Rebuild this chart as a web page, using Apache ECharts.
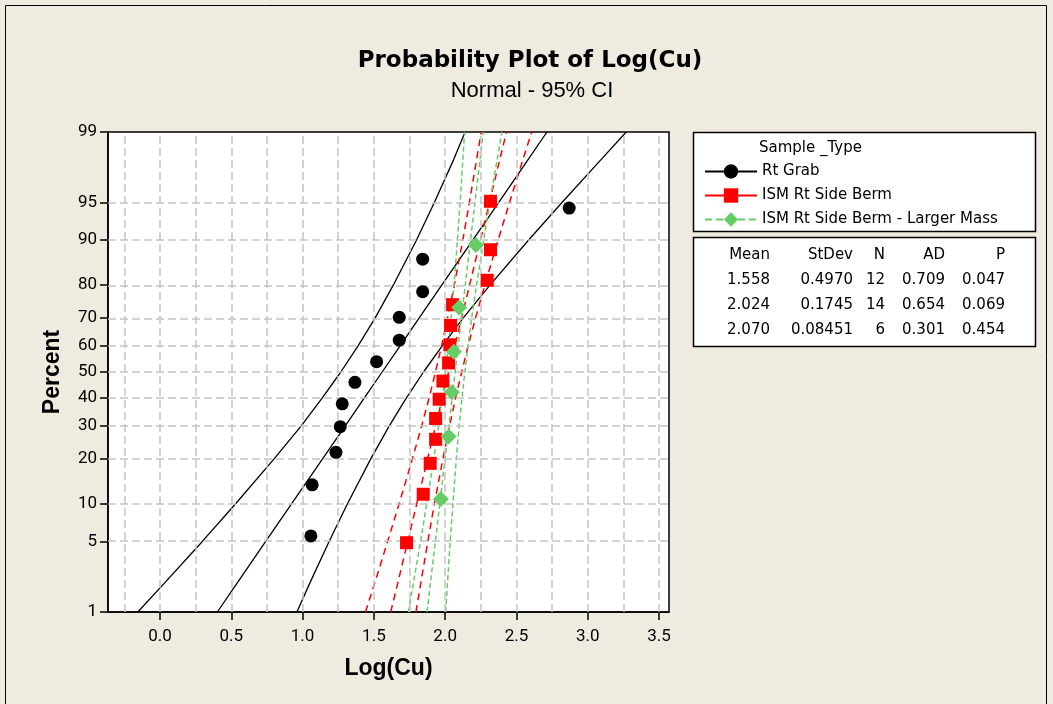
<!DOCTYPE html>
<html><head><meta charset="utf-8">
<script src="https://cdn.jsdelivr.net/npm/echarts@6/dist/echarts.min.js"></script>
<style>html,body{margin:0;padding:0;background:#efebe0;} #chart{width:1053px;height:704px;}</style>
</head><body><div id="chart"></div>
<script>
// ---------- data ----------
const TITLE = 'Probability Plot of Log(Cu)';
const SUBTITLE = 'Normal - 95% CI';
const X_NAME = 'Log(Cu)';
const Y_NAME = 'Percent';
const X_MIN = -0.365, X_MAX = 3.57;
const X_TICKS = [0, 0.5, 1, 1.5, 2, 2.5, 3, 3.5];
const X_GRID = [-0.25, 0, 0.25, 0.5, 0.75, 1, 1.25, 1.5, 1.75, 2, 2.25, 2.5, 2.75, 3, 3.25, 3.5];
const PCT_TICKS = [1, 5, 10, 20, 30, 40, 50, 60, 70, 80, 90, 95, 99];
const LEGEND_TITLE = 'Sample _Type';
const GROUPS = ['Rt Grab', 'ISM Rt Side Berm', 'ISM Rt Side Berm - Larger Mass'];

const GRAB_X   = [1.058, 1.067, 1.234, 1.264, 1.278, 1.367, 1.519, 1.678, 1.678, 1.842, 1.842, 2.870];
const GRAB_PCT = [5.6, 13.7, 21.8, 29.8, 37.9, 46.0, 54.0, 62.1, 70.2, 78.2, 86.3, 94.4];
const BERM_X   = [1.729, 1.846, 1.895, 1.933, 1.933, 1.958, 1.984, 2.024, 2.033, 2.038, 2.052, 2.295, 2.318, 2.318];
const BERM_PCT = [4.9, 11.8, 18.8, 25.7, 32.6, 39.6, 46.5, 53.5, 60.4, 67.4, 74.3, 81.3, 88.2, 95.1];
const LARGE_X   = [1.970, 2.024, 2.047, 2.061, 2.098, 2.215];
const LARGE_PCT = [10.9, 26.6, 42.2, 57.8, 73.4, 89.1];

// fitted lines and 95% CI bands, x read at these percent levels
const CURVE_PCT = [1, 2, 5, 10, 20, 30, 40, 50, 60, 70, 80, 90, 95, 98, 99];
const GRAB_FIT = [0.402, 0.537, 0.740, 0.921, 1.140, 1.298, 1.432, 1.558, 1.684, 1.818, 1.976, 2.195, 2.376, 2.579, 2.714];
const GRAB_LO  = [-0.156, 0.026, 0.295, 0.527, 0.800, 0.989, 1.137, 1.268, 1.389, 1.509, 1.636, 1.800, 1.925, 2.058, 2.140];
const GRAB_HI  = [0.960, 1.048, 1.185, 1.313, 1.478, 1.607, 1.727, 1.848, 1.979, 2.127, 2.314, 2.587, 2.821, 3.090, 3.270];
const BERM_FIT = [1.618, 1.666, 1.737, 1.800, 1.877, 1.933, 1.980, 2.024, 2.068, 2.115, 2.171, 2.248, 2.311, 2.382, 2.430];
const BERM_LO  = [1.441, 1.504, 1.596, 1.676, 1.770, 1.835, 1.887, 1.932, 1.975, 2.017, 2.064, 2.124, 2.170, 2.220, 2.253];
const BERM_HI  = [1.795, 1.828, 1.878, 1.924, 1.984, 2.031, 2.073, 2.116, 2.161, 2.213, 2.278, 2.372, 2.452, 2.544, 2.607];
const LARGE_FIT = [1.873, 1.896, 1.931, 1.962, 1.999, 2.026, 2.049, 2.070, 2.091, 2.114, 2.141, 2.178, 2.209, 2.244, 2.267];
const LARGE_LO  = [1.742, 1.776, 1.827, 1.870, 1.920, 1.954, 1.980, 2.002, 2.022, 2.042, 2.062, 2.086, 2.105, 2.124, 2.136];
const LARGE_HI  = [2.004, 2.016, 2.035, 2.054, 2.078, 2.098, 2.118, 2.138, 2.160, 2.186, 2.220, 2.270, 2.313, 2.364, 2.398];

const STAT_HEADERS = ['Mean', 'StDev', 'N', 'AD', 'P'];
const STAT_MEAN  = ['1.558', '2.024', '2.070'];
const STAT_STDEV = ['0.4970', '0.1745', '0.08451'];
const STAT_N     = ['12', '14', '6'];
const STAT_AD    = ['0.709', '0.654', '0.301'];
const STAT_P     = ['0.047', '0.069', '0.454'];

// ---------- probability scale (normal quantile) ----------
function normInv(p) {
  const a = [-3.969683028665376e+01, 2.209460984245205e+02, -2.759285104469687e+02, 1.383577518672690e+02, -3.066479806614716e+01, 2.506628277459239e+00];
  const b = [-5.447609879822406e+01, 1.615858368580409e+02, -1.556989798598866e+02, 6.680131188771972e+01, -1.328068155288572e+01];
  const c = [-7.784894002430293e-03, -3.223964580411365e-01, -2.400758277161838e+00, -2.549671500635800e+00, 4.374664141464968e+00, 2.938163982698783e+00];
  const d = [7.784695709041462e-03, 3.224671290700398e-01, 2.445134137142996e+00, 3.754408661907416e+00];
  const pl = 0.02425, ph = 1 - pl;
  let q, r;
  if (p < pl) {
    q = Math.sqrt(-2 * Math.log(p));
    return (((((c[0]*q+c[1])*q+c[2])*q+c[3])*q+c[4])*q+c[5]) / ((((d[0]*q+d[1])*q+d[2])*q+d[3])*q+1);
  } else if (p <= ph) {
    q = p - 0.5; r = q*q;
    return (((((a[0]*r+a[1])*r+a[2])*r+a[3])*r+a[4])*r+a[5])*q / (((((b[0]*r+b[1])*r+b[2])*r+b[3])*r+b[4])*r+1);
  } else {
    q = Math.sqrt(-2 * Math.log(1 - p));
    return -(((((c[0]*q+c[1])*q+c[2])*q+c[3])*q+c[4])*q+c[5]) / ((((d[0]*q+d[1])*q+d[2])*q+d[3])*q+1);
  }
}
const zp = pct => normInv(pct / 100);
const Y_MIN = zp(PCT_TICKS[0]), Y_MAX = zp(PCT_TICKS[PCT_TICKS.length - 1]);
const Y_TICK_Z = PCT_TICKS.map(zp);

const pairs = (xs, ps) => xs.map((x, i) => [x, zp(ps[i])]);

const BLACK = '#000000', RED = '#ff0000', GREEN = '#66cc66';
const TXT_FONT = 'DejaVu Sans';

function curve(name, xs, color, type, width) {
  return {
    type: 'line', name: name, data: pairs(xs, CURVE_PCT), symbol: 'none', showSymbol: false,
    silent: true, z: 3, animation: false, clip: true,
    lineStyle: { color: color, width: width, type: type }
  };
}
function points(name, xs, ps, symbol, size, color) {
  return {
    type: 'line', name: name, data: pairs(xs, ps), symbol: symbol, symbolSize: size,
    showSymbol: true, showAllSymbol: true, silent: true, z: 5, animation: false,
    itemStyle: { color: color, borderWidth: 0 },
    lineStyle: { color: color, opacity: 0 }
  };
}

const chart = echarts.init(document.getElementById('chart'), null, { renderer: 'canvas' });

const gridLines = [].concat(
  X_GRID.map(v => ({ xAxis: v })),
  PCT_TICKS.slice(1, -1).map(p => ({ yAxis: zp(p) }))
);

// stats table graphics
const colRight = [770, 853, 885, 945, 1005];
const rowsY = [255, 280.5, 305.5, 330.5];
const tableCols = [STAT_MEAN, STAT_STDEV, STAT_N, STAT_AD, STAT_P];
const tableTexts = [];
STAT_HEADERS.forEach((h, ci) => {
  tableTexts.push({ type: 'text', z: 20, x: colRight[ci], y: rowsY[0],
    style: { text: h, fill: '#000', font: '15px "' + TXT_FONT + '"', textAlign: 'right', textVerticalAlign: 'middle' } });
  tableCols[ci].forEach((v, ri) => {
    tableTexts.push({ type: 'text', z: 20, x: colRight[ci], y: rowsY[ri + 1],
      style: { text: v, fill: '#000', font: '15px "' + TXT_FONT + '"', textAlign: 'right', textVerticalAlign: 'middle' } });
  });
});

const option = {
  backgroundColor: '#efebe0',
  animation: false,
  grid: { left: 108, top: 132, width: 561, height: 480, show: true, backgroundColor: '#ffffff', borderColor: '#000', borderWidth: 1.5, containLabel: false },
  xAxis: {
    type: 'value', min: X_MIN, max: X_MAX,
    name: X_NAME, nameLocation: 'middle', nameGap: 45,
    nameTextStyle: { fontFamily: 'Liberation Sans', fontWeight: 'bold', fontSize: 23, color: '#000' },
    axisLine: { show: true, onZero: false, lineStyle: { color: '#000', width: 1.5 } },
    axisTick: { show: true, length: 8, customValues: X_TICKS, lineStyle: { color: '#000', width: 1.5 } },
    axisLabel: { show: true, customValues: X_TICKS, margin: 16, fontFamily: 'Roboto', fontSize: 17, color: '#000',
      formatter: v => v.toFixed(1) },
    splitLine: { show: false }
  },
  yAxis: {
    type: 'value', min: Y_MIN, max: Y_MAX,
    name: Y_NAME, nameLocation: 'middle', nameGap: 44, nameRotate: 90,
    nameTextStyle: { fontFamily: 'Liberation Sans', fontWeight: 'bold', fontSize: 23, color: '#000' },
    axisLine: { show: true, onZero: false, lineStyle: { color: '#000', width: 1.5 } },
    axisTick: { show: true, length: 8, customValues: Y_TICK_Z, lineStyle: { color: '#000', width: 1.5 } },
    axisLabel: { show: true, customValues: Y_TICK_Z, margin: 11, fontFamily: 'Roboto', fontSize: 17, color: '#000',
      formatter: v => { for (let i = 0; i < PCT_TICKS.length; i++) { if (Math.abs(Y_TICK_Z[i] - v) < 1e-6) return String(PCT_TICKS[i]); } return ''; } },
    splitLine: { show: false }
  },
  legend: {
    orient: 'vertical', left: 699, top: 159, itemWidth: 52, itemHeight: 18, itemGap: 9,
    selectedMode: false,
    textStyle: { fontFamily: TXT_FONT, fontSize: 15, color: '#000' },
    data: [
      { name: GROUPS[0], itemStyle: { color: BLACK }, lineStyle: { color: BLACK, width: 2, type: 'solid', opacity: 1 } },
      { name: GROUPS[1], itemStyle: { color: RED }, lineStyle: { color: RED, width: 2, type: 'solid', opacity: 1 } },
      { name: GROUPS[2], itemStyle: { color: GREEN }, lineStyle: { color: GREEN, width: 2, type: [7, 4], opacity: 1 } }
    ]
  },
  graphic: [
    { type: 'rect', z: 0, shape: { x: 5.5, y: 5.5, width: 1041, height: 720 }, style: { fill: 'none', stroke: '#000', lineWidth: 1 } },
    { type: 'rect', z: 0, shape: { x: 693.5, y: 132.5, width: 342, height: 99 }, style: { fill: '#fff', stroke: '#000', lineWidth: 1.5 } },
    { type: 'rect', z: 0, shape: { x: 693.5, y: 237.5, width: 342, height: 109 }, style: { fill: '#fff', stroke: '#000', lineWidth: 1.5 } },
    { type: 'text', z: 20, x: 759, y: 148, style: { text: LEGEND_TITLE, fill: '#000', font: '15px "' + TXT_FONT + '"', textAlign: 'left', textVerticalAlign: 'middle' } },
    { type: 'text', z: 20, x: 530, y: 61, style: { text: TITLE, fill: '#000', font: 'bold 23px "DejaVu Sans"', textAlign: 'center', textVerticalAlign: 'middle' } },
    { type: 'text', z: 20, x: 532, y: 91, style: { text: SUBTITLE, fill: '#000', font: '22px "Liberation Sans"', textAlign: 'center', textVerticalAlign: 'middle' } }
  ].concat(tableTexts),
  series: [
    { type: 'line', name: 'grid', data: [], silent: true, z: 1, animation: false,
      markLine: { silent: true, animation: false, symbol: ['none', 'none'], label: { show: false },
        lineStyle: { color: '#c4c4c4', type: [8, 4], width: 1.5 }, emphasis: { disabled: true }, data: gridLines } },
    curve('Rt Grab fit', GRAB_FIT, BLACK, 'solid', 1.3),
    curve('Rt Grab lower', GRAB_LO, BLACK, 'solid', 1.3),
    curve('Rt Grab upper', GRAB_HI, BLACK, 'solid', 1.3),
    curve('Berm fit', BERM_FIT, RED, [7, 5], 1.5),
    curve('Berm lower', BERM_LO, RED, [7, 5], 1.5),
    curve('Berm upper', BERM_HI, RED, [7, 5], 1.5),
    curve('Large fit', LARGE_FIT, GREEN, [5, 3], 1.5),
    curve('Large lower', LARGE_LO, GREEN, [5, 3], 1.5),
    curve('Large upper', LARGE_HI, GREEN, [5, 3], 1.5),
    points(GROUPS[0], GRAB_X, GRAB_PCT, 'circle', 13, BLACK),
    points(GROUPS[1], BERM_X, BERM_PCT, 'rect', 13, RED),
    points(GROUPS[2], LARGE_X, LARGE_PCT, 'diamond', 16, GREEN)
  ]
};
chart.setOption(option);
</script></body></html>
